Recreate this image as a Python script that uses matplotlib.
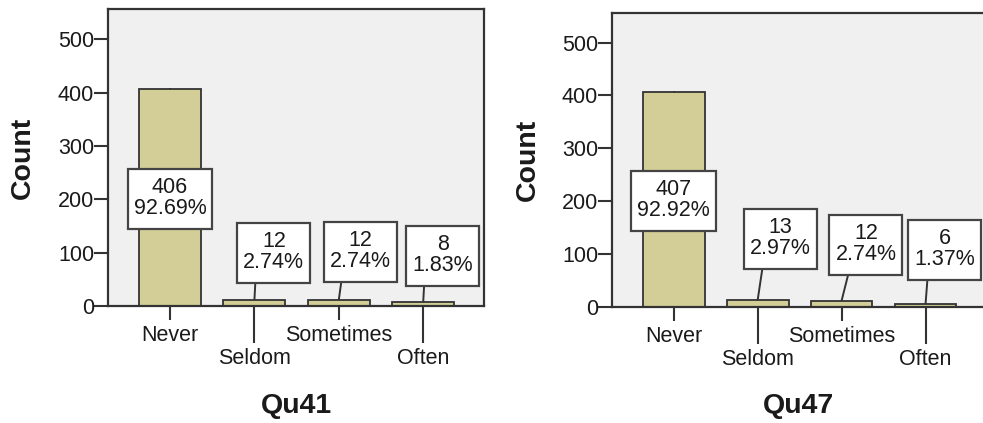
import matplotlib
matplotlib.use('Agg')
import matplotlib.pyplot as plt
from matplotlib.patches import Rectangle

# data
categories = ['Never', 'Seldom', 'Sometimes', 'Often']
qu41_counts = [406, 12, 12, 8]
qu41_pct = ['92.69%', '2.74%', '2.74%', '1.83%']
qu47_counts = [407, 13, 12, 6]
qu47_pct = ['92.92%', '2.97%', '2.74%', '1.37%']
y_ticks = [0, 100, 200, 300, 400, 500]

# label box placement (x, y in data units) and connector tilt
qu41_label_pos = [(0.0, 202), (1.23, 102), (2.26, 103), (3.23, 96)]
qu41_tilt = [0.0, 0.03, 0.08, 0.03]
qu47_label_pos = [(0.0, 202), (1.27, 130), (2.29, 119), (3.23, 109)]
qu47_tilt = [0.0, 0.11, 0.17, 0.05]

plt.rcParams['font.family'] = ['Liberation Sans', 'DejaVu Sans']

BAR = '#D3CE97'
BG = '#F0F0F0'
EDGE = '#333333'
TXT = '#1a1a1a'
FS = 15.5

fig = plt.figure(figsize=(9.83, 4.23), dpi=100)
fig.patch.set_facecolor('white')

value_texts = []


def draw_panel(ax, counts, pcts, label_pos, tilt, title):
    xs = list(range(len(categories)))
    ax.set_facecolor(BG)
    ax.bar(xs, counts, width=0.735, color=BAR, edgecolor=EDGE,
           linewidth=1.3, zorder=2)
    ax.set_xlim(-0.735, 3.72)
    ax.set_ylim(0, 556)

    for sp in ax.spines.values():
        sp.set_color(EDGE)
        sp.set_linewidth(1.6)

    ax.set_yticks(y_ticks)
    ax.set_yticklabels([str(t) for t in y_ticks])
    ax.tick_params(axis='y', length=10, width=1.5, color=EDGE, pad=0,
                   labelsize=FS, labelcolor=TXT)

    # staggered category labels: short ticks for 0/2, long ticks for 1/3
    ax.set_xticks(xs[0::2])
    ax.set_xticklabels(categories[0::2])
    ax.set_xticks(xs[1::2], minor=True)
    ax.set_xticklabels(categories[1::2], minor=True)
    ax.tick_params(axis='x', which='major', length=10, width=1.5,
                   color=EDGE, pad=3.5, labelsize=FS, labelcolor=TXT)
    ax.tick_params(axis='x', which='minor', length=26.6, width=1.5,
                   color=EDGE, pad=3.5, labelsize=FS, labelcolor=TXT)

    for i, (c, p) in enumerate(zip(counts, pcts)):
        lx, ly = label_pos[i]
        ax.plot([i, i + tilt[i]], [c, ly], color=EDGE,
                linewidth=1.4, zorder=1.5, clip_on=False)
        t = ax.text(lx, ly, f'{c}\n{p}', ha='center', va='center',
                    multialignment='center', fontsize=FS, color=TXT,
                    linespacing=1.0, zorder=5)
        value_texts.append((ax, t))

    ax.text(-0.226, 0.5, 'Count', transform=ax.transAxes, rotation=90,
            ha='center', va='center', fontsize=20.5, fontweight='bold',
            color=TXT)
    ax.text(0.5, -0.337, title, transform=ax.transAxes, ha='center',
            va='center', fontsize=20.5, fontweight='bold', color=TXT)


ax1 = fig.add_axes([108 / 983, 117 / 423, 376 / 983, 296.5 / 423])
draw_panel(ax1, qu41_counts, qu41_pct, qu41_label_pos, qu41_tilt, 'Qu41')

ax2 = fig.add_axes([612 / 983, 116 / 423, 374 / 983, 294 / 423])
draw_panel(ax2, qu47_counts, qu47_pct, qu47_label_pos, qu47_tilt, 'Qu47')

# white label boxes sized from the rendered text (pixels of padding)
fig.canvas.draw()
renderer = fig.canvas.get_renderer()
for ax, t in value_texts:
    bb = t.get_window_extent(renderer)
    inv = ax.transData.inverted()
    x0, y0 = inv.transform((bb.x0 - 6, bb.y0 - 10))
    x1, y1 = inv.transform((bb.x1 + 6, bb.y1 + 8))
    ax.add_patch(Rectangle((x0, y0), x1 - x0, y1 - y0, facecolor='white',
                           edgecolor='#444444', linewidth=1.6, zorder=4,
                           clip_on=False))

fig.savefig('out.png', dpi=100)
